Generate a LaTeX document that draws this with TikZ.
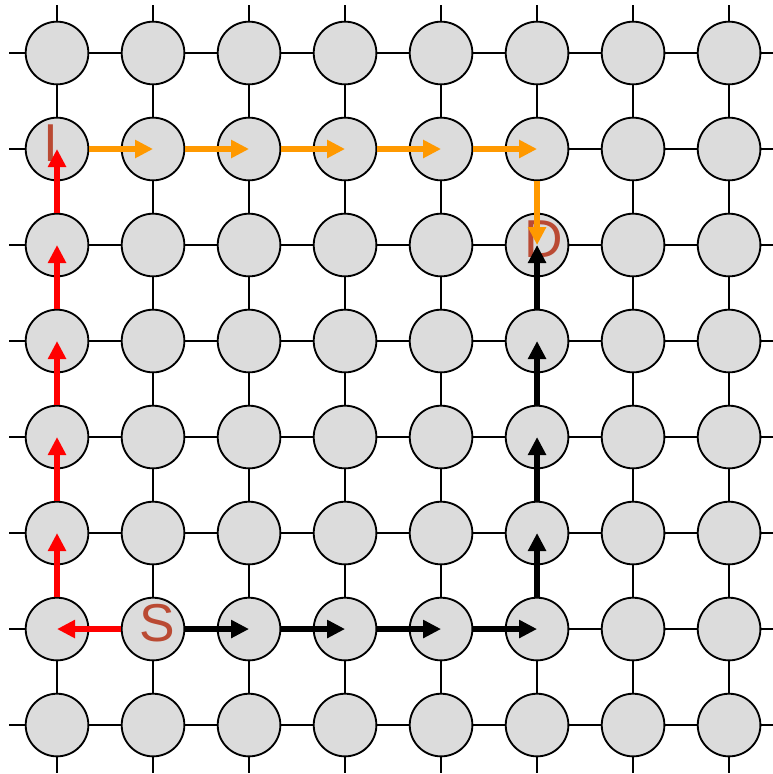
\documentclass[tikz,border=0pt]{standalone}
\usepackage{fontspec}
\setmainfont{Liberation Sans}
\usetikzlibrary{arrows.meta,backgrounds}
\definecolor{meshFill}{HTML}{DCDCDC}
\definecolor{meshLabel}{HTML}{BA4A33}
\definecolor{meshOrange}{HTML}{FF9900}
\definecolor{meshRed}{HTML}{FF0000}

\begin{document}
\begin{tikzpicture}[x=72pt,y=-72pt,
    router/.style={circle, draw, line width=1.4pt, fill=meshFill, minimum size=47pt, inner sep=0pt},
    link/.style={line width=1.1pt},
    hop/.style={line width=4pt, -{Triangle[length=13.5pt,width=13pt]}},
    tag/.style={text=meshLabel, inner sep=0pt, font=\fontsize{40}{48}\selectfont}]
    \useasboundingbox (0.406,0.448) rectangle (8.448,8.510);
    % routers
    \foreach \i in {1,...,8}
      \foreach \j in {1,...,8}
        \node[router] (n\i-\j) at (\i,\j) {};
    % mesh links behind the routers
    \begin{scope}[on background layer]
      \foreach \k in {1,...,8} {
        \coordinate (w\k) at (0.5,\k);
        \coordinate (e\k) at (8.5,\k);
        \coordinate (t\k) at (\k,0.5);
        \coordinate (b\k) at (\k,8.5);
        \draw[link] (w\k) -- (n1-\k);
        \draw[link] (n8-\k) -- (e\k);
        \draw[link] (t\k) -- (n\k-1);
        \draw[link] (n\k-8) -- (b\k);
      }
      \foreach \i in {1,...,7}
        \foreach \j in {1,...,8} {
          \pgfmathtruncatemacro{\m}{\i+1}
          \draw[link] (n\i-\j) -- (n\m-\j);
          \draw[link] (n\j-\i) -- (n\j-\m);
        }
    \end{scope}
    % labels
    \node[tag, xshift=-4.5pt, yshift=4.5pt] (lblI) at (n1-2) {I};
    \node[tag, xshift=3pt, yshift=4.5pt] (lblS) at (n2-7) {S};
    \node[tag, xshift=5.25pt, yshift=4.5pt] (lblD) at (n6-3) {D};
    % route via I
    \draw[hop, meshRed] (n2-7) -- (n1-7.center);
    \foreach \j in {7,...,3} {
      \pgfmathtruncatemacro{\m}{\j-1}
      \draw[hop, meshRed] (n1-\j) -- (n1-\m.center);
    }
    \foreach \i in {1,...,5} {
      \pgfmathtruncatemacro{\m}{\i+1}
      \draw[hop, meshOrange] (n\i-2) -- (n\m-2.center);
    }
    \draw[hop, meshOrange] (n6-2) -- (n6-3.center);
    % direct route
    \foreach \i in {2,...,5} {
      \pgfmathtruncatemacro{\m}{\i+1}
      \draw[hop] (n\i-7) -- (n\m-7.center);
    }
    \foreach \j in {7,...,4} {
      \pgfmathtruncatemacro{\m}{\j-1}
      \draw[hop] (n6-\j) -- (n6-\m.center);
    }
\end{tikzpicture}
\end{document}
